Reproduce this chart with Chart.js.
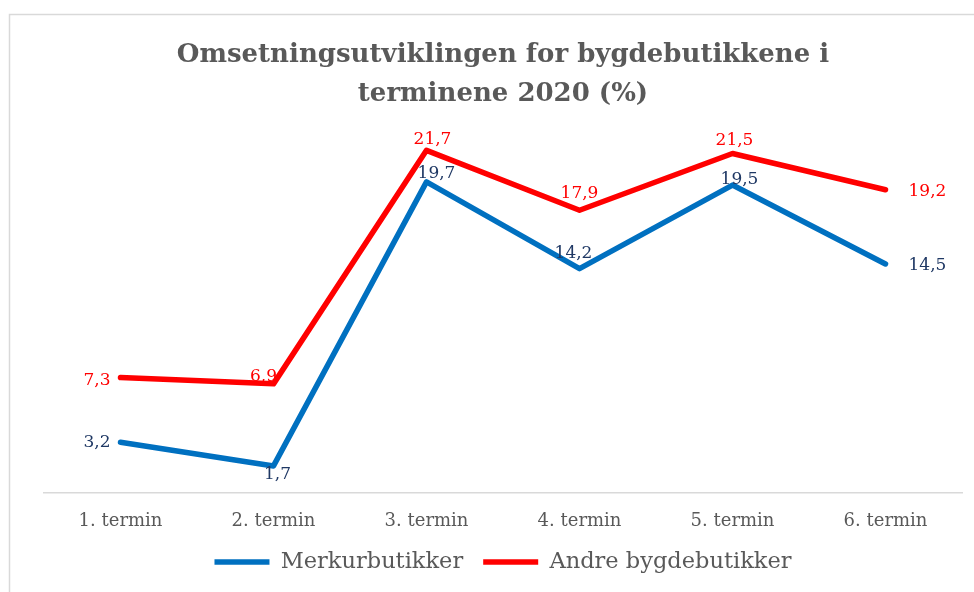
<!DOCTYPE html>
<html>
<head>
<meta charset="utf-8">
<script src="https://cdn.jsdelivr.net/npm/chart.js@4.4.1/dist/chart.umd.min.js"></script>
<style>
  html, body { margin: 0; padding: 0; background: #ffffff; }
  #wrap { position: relative; width: 974px; height: 592px; }
  canvas { display: block; }
</style>
</head>
<body>
<div id="wrap"><canvas id="c" width="974" height="592"></canvas></div>
<script>
// ---- data ----
const categories = ["1. termin", "2. termin", "3. termin", "4. termin", "5. termin", "6. termin"];
const merkurValues = [3.2, 1.7, 19.7, 14.2, 19.5, 14.5];
const andreValues = [7.3, 6.9, 21.7, 17.9, 21.5, 19.2];
const seriesNames = ["Merkurbutikker", "Andre bygdebutikker"];
const titleLines = ["Omsetningsutviklingen for bygdebutikkene i", "terminene 2020 (%)"];

// ---- label placement (style only): [dx, dy, align] per point ----
const labelPlacement = [
  [[-10, 0, 'right'], [4, 9, 'center'], [10, -8, 'center'], [-6, -15, 'center'], [7, -5, 'center'], [23, 2, 'left']],
  [[-10, 3, 'right'], [-10, -7, 'center'], [6, -11, 'center'], [0, -17, 'center'], [2, -13, 'center'], [23, 2, 'left']]
];
const labelColors = ['#1F3864', '#FF0000'];

const fmt = v => String(v).replace('.', ',');

const frameAndLabels = {
  id: 'frameAndLabels',
  beforeDraw(chart) {
    const ctx = chart.ctx;
    ctx.save();
    ctx.fillStyle = '#ffffff';
    ctx.fillRect(0, 0, chart.width, chart.height);
    ctx.strokeStyle = '#D9D9D9';
    ctx.lineWidth = 1.5;
    ctx.strokeRect(9.5, 14.5, 1000, 1000);
    ctx.restore();
  },
  afterDatasetsDraw(chart) {
    const ctx = chart.ctx;
    ctx.save();
    ctx.font = '17px "DejaVu Serif"';
    ctx.textBaseline = 'middle';
    chart.data.datasets.forEach((ds, di) => {
      const meta = chart.getDatasetMeta(di);
      meta.data.forEach((pt, i) => {
        const [dx, dy, align] = labelPlacement[di][i];
        ctx.fillStyle = labelColors[di];
        ctx.textAlign = align;
        ctx.fillText(fmt(ds.data[i]), pt.x + dx, pt.y + dy);
      });
    });
    ctx.restore();
  }
};

new Chart(document.getElementById('c'), {
  type: 'line',
  data: {
    labels: categories,
    datasets: [
      {
        label: seriesNames[0],
        data: merkurValues,
        borderColor: '#0070C0',
        backgroundColor: '#0070C0',
        borderWidth: 5.5,
        borderCapStyle: 'round',
        borderJoinStyle: 'round',
        pointRadius: 0,
        pointStyle: 'line',
        tension: 0
      },
      {
        label: seriesNames[1],
        data: andreValues,
        borderColor: '#FF0000',
        backgroundColor: '#FF0000',
        borderWidth: 5.5,
        borderCapStyle: 'round',
        borderJoinStyle: 'round',
        pointRadius: 0,
        pointStyle: 'line',
        tension: 0
      }
    ]
  },
  options: {
    responsive: false,
    animation: false,
    devicePixelRatio: 1,
    layout: { padding: { left: 44, right: 12, top: 0, bottom: 8.75 } },
    plugins: {
      title: {
        display: true,
        text: titleLines,
        color: '#595959',
        font: { family: '"DejaVu Serif"', size: 26, weight: 'bold', lineHeight: 1.52 },
        padding: { top: 35, bottom: 0 }
      },
      legend: {
        position: 'bottom',
        labels: {
          usePointStyle: true,
          pointStyleWidth: 55,
          color: '#595959',
          font: { family: '"DejaVu Serif"', size: 22.5 },
          padding: 20
        }
      },
      tooltip: { enabled: false }
    },
    scales: {
      x: {
        offset: true,
        grid: { display: true, drawOnChartArea: false, drawTicks: false },
        border: { display: true, color: '#D9D9D9', width: 1.5 },
        ticks: {
          color: '#595959',
          font: { family: '"DejaVu Serif"', size: 18 },
          padding: 17.5,
          maxRotation: 0
        },
        afterFit(scale) { scale.height = 38; }
      },
      y: {
        display: false,
        min: 0,
        max: 24
      }
    }
  },
  plugins: [frameAndLabels]
});
</script>
</body>
</html>
